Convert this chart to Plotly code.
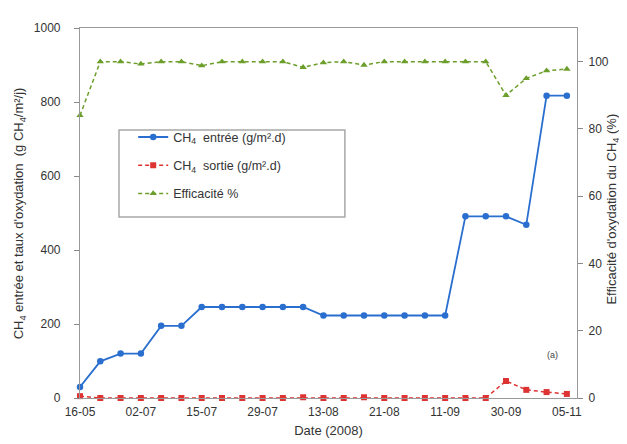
import plotly.graph_objects as go

# x positions: sampling index (25 measurement dates)
x_index = list(range(25))
tick_positions = [0, 3, 6, 9, 12, 15, 18, 21, 24]
tick_labels = ["16-05", "02-07", "15-07", "29-07", "13-08", "21-08", "11-09", "30-09", "05-11"]

ch4_entree = [30, 99, 120, 120, 195, 195, 246, 246, 246, 246, 246, 246,
              223, 223, 223, 223, 223, 223, 223, 491, 491, 491, 468, 817, 817]
ch4_sortie = [5, 0, 0, 0, 0, 0, 0, 0, 0, 0, 0, 2,
              0, 0, 2, 0, 0, 0, 0, 0, 0, 46, 22, 16, 11]
efficacite = [84, 100, 100, 99.3, 100, 100, 98.8, 100, 100, 100, 100, 98.3,
              99.7, 100, 99, 100, 100, 100, 100, 100, 100, 90, 95, 97.3, 97.8]

BLUE = "#2a6fcf"
RED = "#dd3333"
GREEN = "#6b9e2a"
FONT = "Liberation Sans, Arial, sans-serif"
TXT = "#333333"

fig = go.Figure()
fig.add_trace(go.Scatter(
    x=x_index, y=ch4_entree, name="CH<sub>4</sub>  entrée (g/m².d)", legendgroup="a",
    mode="lines+markers", line=dict(color=BLUE, width=1.8),
    marker=dict(symbol="circle", size=6.5, color=BLUE), cliponaxis=False))
fig.add_trace(go.Scatter(
    x=x_index, y=ch4_sortie, name="CH<sub>4</sub>  sortie (g/m².d)", legendgroup="b",
    mode="lines+markers", line=dict(color=RED, width=1.5, dash="4px,3px"),
    marker=dict(symbol="square", size=6, color=RED), cliponaxis=False))
fig.add_trace(go.Scatter(
    x=x_index, y=efficacite, name="Efficacité %", yaxis="y2", legendgroup="c",
    mode="lines+markers", line=dict(color=GREEN, width=1.5, dash="4px,3px"),
    marker=dict(symbol="triangle-up", size=6.5, color=GREEN), cliponaxis=False))

# legend frame
fig.add_shape(type="rect", xref="paper", yref="paper", x0=0.0785, x1=0.533, y0=0.489, y1=0.724,
              line=dict(color="#a8a8a8", width=1.5), fillcolor="white", layer="above")

fig.add_annotation(x=23.3, y=115, xref="x", yref="y", text="(a)", showarrow=False,
                   font=dict(size=9, color="#444", family=FONT))
fig.add_annotation(x=-0.122, y=0.5, xref="paper", yref="paper", textangle=-90,
                   text="CH<sub>4</sub> entrée et taux d'oxydation  (g CH<sub>4</sub>/m²/j)",
                   showarrow=False, xanchor="center", yanchor="middle",
                   font=dict(size=13, color=TXT, family=FONT))
fig.add_annotation(x=1.071, y=0.51, xref="paper", yref="paper", textangle=-90,
                   text="Efficacité d'oxydation du CH<sub>4</sub> (%)",
                   showarrow=False, xanchor="center", yanchor="middle",
                   font=dict(size=13, color=TXT, family=FONT))

axis_common = dict(showgrid=False, zeroline=False, linecolor="#999", linewidth=1.2,
                   automargin=False,
                   tickfont=dict(size=12, color=TXT, family=FONT))

fig.update_layout(
    width=627, height=444,
    margin=dict(l=72, r=58, t=20, b=54, autoexpand=False),
    paper_bgcolor="white", plot_bgcolor="white",
    font=dict(family=FONT, color=TXT),
    showlegend=True,
    legend=dict(x=0.107, y=0.745, xanchor="left", yanchor="top",
                bgcolor="rgba(0,0,0,0)", borderwidth=0,
                font=dict(size=12.5, color=TXT, family=FONT),
                itemwidth=30, tracegroupgap=9),
    xaxis=dict(range=[0, 24.5], tickmode="array", tickvals=tick_positions,
               ticktext=tick_labels, ticks="", mirror=True, showline=True,
               ticklabelstandoff=2,
               title=dict(text="Date (2008)", font=dict(size=13, color=TXT), standoff=8),
               **axis_common),
    yaxis=dict(range=[0, 1000], tickvals=[0, 200, 400, 600, 800, 1000],
               ticks="outside", ticklen=5, tickcolor="#888", showline=True,
               ticklabelstandoff=11,
               **axis_common),
    yaxis2=dict(range=[0, 110], tickvals=[0, 20, 40, 60, 80, 100], overlaying="y",
                side="right", ticks="outside", ticklen=5, tickcolor="#888", showline=True,
                ticklabelstandoff=3,
                **axis_common),
)

fig.write_html("out.html")
